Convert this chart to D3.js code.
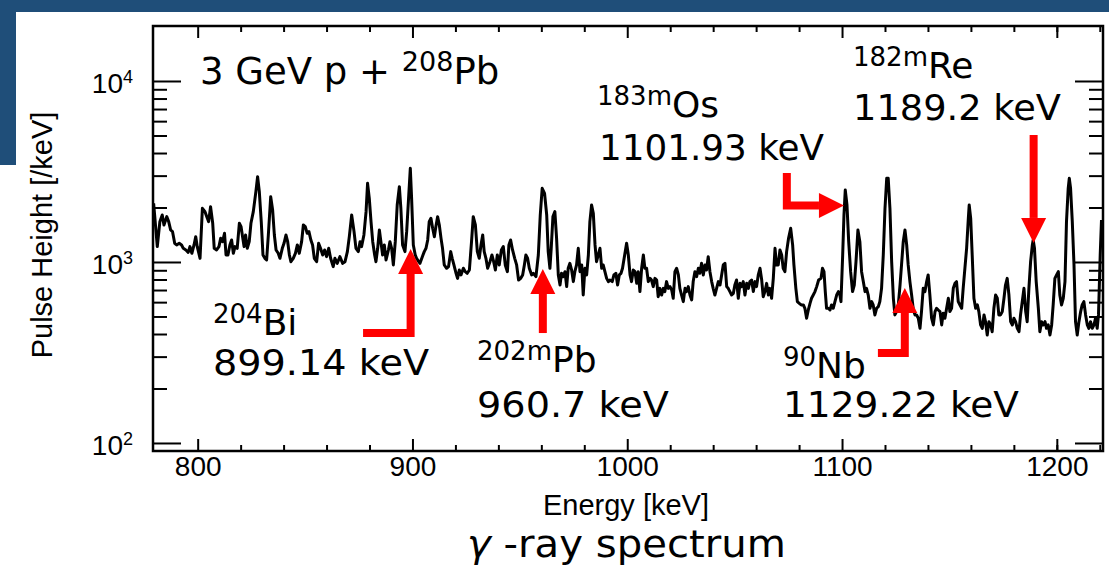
<!DOCTYPE html>
<html><head><meta charset="utf-8">
<script src="https://cdn.jsdelivr.net/npm/d3@7"></script>
<style>html,body{margin:0;padding:0;background:#fff;}svg{display:block;}</style>
</head><body>
<svg id="chart" width="1109" height="569"></svg>
<script>
// ---- data ----
const energyKeV = [
 779.5,781.2,782.4,783.5,784.3,785.6,786.5,787.4,788.3,789.3,790.2,791.4,792.5,793.3,794.5,795.6,796.4,797.3,798.3,799.1,
 799.8,801.1,802.2,803.4,804.5,805.1,806.0,807.0,807.7,808.8,809.9,810.7,811.6,812.5,813.2,814.1,815.0,815.8,816.6,817.4,
 818.4,819.4,820.2,820.9,821.6,822.3,823.1,824.0,824.8,825.9,827.1,827.9,828.7,829.6,830.4,831.3,832.1,832.9,834.0,834.9,
 835.7,836.5,837.5,838.3,839.4,840.2,841.1,841.9,842.7,843.4,844.5,845.5,846.4,847.3,848.4,849.2,850.1,851.0,851.8,852.7,
 853.5,854.3,855.4,856.3,857.2,858.2,859.1,860.0,861.0,861.9,863.1,863.9,865.0,866.2,867.5,
 868.6,869.7,870.6,871.7,872.8,873.7,874.8,875.6,876.3,877.4,878.4,879.1,879.9,880.7,881.5,882.4,883.0,883.8,884.6,885.3,
 886.1,886.9,887.7,888.8,889.5,890.3,891.1,892.0,892.9,893.9,894.6,895.4,896.5,897.3,898.1,899.0,899.6,900.4,901.3,901.9,
 902.9,903.5,904.6,905.5,906.3,907.1,907.8,908.6,909.4,910.2,910.9,911.7,912.5,913.3,914.0,914.8,915.9,916.8,917.8,918.5,
 919.3,920.3,921.0,921.8,922.6,923.7,924.6,925.5,926.5,927.5,928.3,929.3,930.2,931.1,931.9,932.7,933.4,934.2,935.0,936.1,
 937.0,937.8,938.6,939.5,940.4,941.4,942.3,943.2,944.2,944.9,945.7,946.6,947.6,948.5,949.4,950.4,951.3,952.1,952.8,953.6,
 954.4,955.5,
 956.3,957.5,958.6,959.5,960.4,961.5,962.5,963.2,964.0,964.6,965.4,966.3,967.1,967.9,968.7,969.4,970.2,971.0,971.8,972.5,
 973.3,974.1,974.9,975.6,976.4,977.2,978.0,978.8,979.5,980.3,981.1,981.9,982.6,983.4,984.2,985.0,985.7,986.5,987.3,988.1,
 988.8,989.6,990.4,991.2,991.9,993.0,993.8,994.7,995.5,996.3,997.1,997.8,998.8,999.7,1000.5,1001.3,1002.0,1002.8,1003.6,1004.4,
 1005.1,1005.9,1006.7,1007.5,1008.2,1009.0,1009.8,1010.6,1011.3,1012.1,1012.9,1013.7,1014.4,1015.2,1016.0,1016.8,1017.5,1018.3,1019.1,1019.9,
 1020.7,1021.4,1022.2,1023.0,1023.8,1024.5,1025.3,1026.1,1026.9,1027.6,1028.4,1029.2,1030.0,1030.7,1031.5,1032.3,1033.1,1033.8,1034.6,1035.4,
 1036.2,1036.9,1037.7,1038.5,1039.3,1040.0,1040.8,1041.6,1042.4,1043.2,1044.7,1045.5,
 1046.3,1047.0,1047.8,1048.6,1049.4,1050.1,1050.9,1051.7,1052.5,1053.2,1054.0,1054.8,1055.6,1056.4,1057.1,1057.9,1058.7,1059.5,1060.2,1061.0,
 1061.8,1062.6,1063.3,1064.1,1064.9,1065.7,1066.4,1067.2,1068.0,1068.8,1069.5,1070.3,1071.1,1071.9,1072.6,1073.4,1074.2,1075.1,1076.1,1077.0,
 1077.6,1078.5,1079.2,1080.1,1081.0,1082.0,1082.7,1083.5,1084.3,1085.1,1085.8,1086.6,1087.4,1088.2,1089.1,1090.2,1090.9,1091.6,1092.2,1092.8,
 1093.6,1094.4,1095.1,1095.9,1096.7,1097.5,1098.3,1099.0,1099.5,1100.3,1100.9,1101.5,1102.3,1103.1,1104.0,1104.9,1105.7,1106.5,1107.4,1108.3,
 1109.1,1109.9,1110.7,1111.4,1112.2,1113.0,1113.8,1114.5,1115.3,1116.1,1116.9,1117.6,1118.4,1119.2,1120.0,1120.8,1121.5,1122.3,1123.1,1123.9,
 1124.6,1125.4,1126.2,1127.0,1127.7,1128.5,1129.3,1130.1,1130.8,1131.6,1132.4,1133.2,1134.0,
 1134.7,1135.5,1136.3,1137.0,1137.8,1138.6,1139.4,1140.1,1140.9,1141.7,1142.5,1143.3,1144.0,1144.8,1145.6,1146.4,1147.1,1147.9,1148.7,1149.5,
 1150.2,1151.0,1151.8,1152.6,1153.3,1154.1,1154.9,1155.7,1156.4,1157.2,1158.0,1158.8,1159.2,1159.9,1160.6,1161.4,1162.2,1163.0,1163.7,1164.5,
 1165.3,1166.1,1166.8,1167.6,1168.4,1169.2,1169.9,1170.7,1171.5,1172.3,1173.0,1173.8,1174.6,1175.4,1176.1,1176.9,1177.7,1178.5,1179.3,1180.0,
 1180.8,1181.6,1182.4,1183.1,1183.9,1184.7,1185.5,1186.2,1187.0,1187.8,1188.6,1189.0,1189.6,1190.4,1191.4,1192.1,1192.9,1193.7,1194.5,1195.2,
 1196.0,1196.8,1197.6,1198.3,1199.1,1199.9,1200.7,1201.4,1202.2,1203.0,1203.8,1204.5,1205.3,1205.8,1206.4,1207.2,1208.0,1208.7,1209.5,1210.3,
 1211.1,1211.8,1212.6,1213.4,1214.2,1214.9,1215.7,1216.5,1217.3,1218.0,1218.8,1219.4,1220.2,1220.8
];
const pulseHeight = [
 2110,1216,1671,1818,1601,1780,1671,1503,1471,1268,1242,1268,1242,1190,1165,1131,1216,1117,1242,1380,
 1216,1048,1980,1897,1743,1671,2022,1636,1190,1165,1216,1351,1295,1440,1093,1093,1242,1323,1117,1216,
 1190,1636,1568,1380,1216,1410,1190,1295,1636,1897,2447,2961,2447,1671,1093,1048,1026,1410,2296,1938,
 1410,1165,1117,1048,1190,1268,1410,1295,1093,1004,1048,1117,1242,1117,1295,1601,1568,1440,1471,1323,
 1242,1048,1004,1268,1190,1093,1165,1070,1190,1048,943,1048,983,1070,983,
 1004,1141,1380,1818,1471,1190,1141,1295,1216,1410,1897,2720,2247,1671,1295,1093,1004,1190,1503,1295,
 1093,1242,1026,1165,1295,1190,963,1295,2065,2608,1980,1242,1141,1471,2155,3292,2247,1242,1093,1048,
 1004,983,1070,1141,1190,1323,1671,1743,1535,1380,1568,1780,1601,1351,1190,963,923,943,1141,1048,
 963,866,812,903,848,923,884,866,903,1295,1780,1601,1141,1048,1242,1410,1141,1048,923,1004,
 1093,1004,903,1093,963,1165,1216,963,884,1242,1323,1165,1048,963,795,812,848,963,1093,1048,
 923,848,
 866,830,1093,1818,2553,2396,1818,1141,923,1190,1780,1897,1351,848,746,866,830,884,731,923,
 983,903,779,884,963,1190,884,963,657,923,848,1093,1671,2065,1857,1242,1004,1093,1190,923,
 963,884,812,779,795,779,848,866,746,848,866,923,1093,1268,1093,848,779,903,884,762,
 884,686,923,1093,923,923,779,812,795,731,812,795,643,715,657,715,686,779,715,731,
 700,630,884,923,848,715,657,604,715,686,731,657,617,779,884,830,923,866,983,848,
 963,903,1070,884,779,715,657,715,779,746,963,983,
 731,715,686,657,671,746,795,630,762,731,779,657,762,715,779,795,686,779,731,848,
 923,795,643,686,762,657,715,630,812,1190,963,963,1165,1093,923,884,1141,1351,1535,1242,
 963,715,604,591,579,579,555,489,543,591,630,657,686,731,795,812,923,884,686,555,
 555,543,579,555,604,657,686,657,604,1093,1818,2500,2065,1295,884,686,746,1004,1503,1295,
 884,779,686,715,657,555,604,579,510,555,567,604,715,1093,1980,2900,2900,1980,1004,630,
 510,532,579,746,963,1295,1503,1242,963,779,657,543,510,
 510,489,430,532,715,686,779,848,657,489,449,532,555,543,532,449,521,489,555,630,
 532,555,715,762,779,604,579,555,715,923,1190,1743,2065,1743,1093,630,555,579,532,449,
 430,510,468,395,468,449,412,555,657,630,510,510,532,630,746,812,657,468,449,489,
 468,430,412,510,604,715,532,468,715,1004,1242,1323,1190,779,555,412,468,449,468,430,
 449,395,449,579,812,848,884,657,579,630,779,1671,2553,2900,2553,1671,963,468,395,468,
 532,579,604,510,449,430,468,430,449,489,430,510,1093,1707
];
const xDomain = [779.2, 1221.5];
const yDomain = [90.3, 20130];
const xMajorTicks = [800, 900, 1000, 1100, 1200];
const xMinorTicks = [820,840,860,880,920,940,960,980,1020,1040,1060,1080,1120,1140,1160,1180,1200,1220];
const yMajorTicks = [100, 1000, 10000];
const yMajorExp = ["2", "3", "4"];
const yMinorTicks = [200,300,400,500,600,700,800,900,2000,3000,4000,5000,6000,7000,8000,9000];
const xTitle = "Energy [keV]";
const yTitle = "Pulse Height [/keV]";
const slideTitle = ["\u03B3", " -ray spectrum"];
const beamLabel = ["3 GeV p + ", "208", "Pb"];
const peakIso = [["183m","Os"],["182m","Re"],["204","Bi"],["202m","Pb"],["90","Nb"]];
const peakEnergyText = ["1101.93 keV","1189.2 keV","899.14 keV","960.7 keV","1129.22 keV"];
const arrowTail = [[[1074.3,3102],[1074.3,2051]], [[1189.2,5031]], [[877.0,405],[899.14,405]], [[960.7,405]], [[1116.7,314],[1129.22,314]]];
const arrowTip = [[1100.9,2051],[1189.2,1274],[899.14,1180],[960.7,915],[1129.22,718]];
const arrowDir = ["right","down","up","up","up"];

// ---- layout ----
const W = 1109, H = 569;
const plot = {l:153, t:26, r:1103, b:451};
const svg = d3.select("#chart");
svg.append("rect").attr("width",W).attr("height",H).attr("fill","#fff");
svg.append("rect").attr("x",0).attr("y",0).attr("width",W).attr("height",12).attr("fill","#1f4e79");
svg.append("rect").attr("x",0).attr("y",0).attr("width",16).attr("height",165).attr("fill","#1f4e79");

const x = d3.scaleLinear().domain(xDomain).range([plot.l, plot.r]);
const y = d3.scaleLog().domain(yDomain).range([plot.b, plot.t]);

const axisFont = "'Liberation Sans', Arial, sans-serif";
function styleAxis(g){ g.select(".domain").remove(); g.selectAll("line").attr("stroke","#000").attr("stroke-width",2); }

svg.append("g").attr("transform",`translate(0,${plot.b})`)
  .call(d3.axisBottom(x).tickValues(xMajorTicks).tickSize(-12).tickPadding(5).tickFormat(d3.format("d")))
  .call(styleAxis)
  .call(g=>g.selectAll("text").attr("font-family",axisFont).attr("font-size",28).attr("fill","#000"));
svg.append("g").attr("transform",`translate(0,${plot.b})`)
  .call(d3.axisBottom(x).tickValues(xMinorTicks.filter(v=>v<xDomain[1])).tickSize(-6).tickFormat(""))
  .call(styleAxis);
svg.append("g").attr("transform",`translate(0,${plot.t})`)
  .call(d3.axisTop(x).tickValues(xMajorTicks).tickSize(-12).tickFormat(""))
  .call(styleAxis);
svg.append("g").attr("transform",`translate(0,${plot.t})`)
  .call(d3.axisTop(x).tickValues(xMinorTicks.filter(v=>v<xDomain[1])).tickSize(-6).tickFormat(""))
  .call(styleAxis);
[[d3.axisLeft, plot.l],[d3.axisRight, plot.r]].forEach(([ax,pos])=>{
  svg.append("g").attr("transform",`translate(${pos},0)`)
    .call(ax(y).tickValues(yMajorTicks).tickSize(-28).tickFormat(""))
    .call(styleAxis);
  svg.append("g").attr("transform",`translate(${pos},0)`)
    .call(ax(y).tickValues(yMinorTicks).tickSize(-14).tickFormat(""))
    .call(styleAxis);
});
yMajorTicks.forEach((v,i)=>{
  const t = svg.append("text").attr("x",133).attr("y",y(v)+12).attr("text-anchor","end")
    .attr("font-family",axisFont).attr("font-size",28).attr("fill","#000");
  t.append("tspan").text("10");
  t.append("tspan").attr("font-size",18).attr("dy",-10).text(yMajorExp[i]);
});
svg.append("rect").attr("x",plot.l).attr("y",plot.t).attr("width",plot.r-plot.l).attr("height",plot.b-plot.t)
  .attr("fill","none").attr("stroke","#000").attr("stroke-width",2.5);

svg.append("text").attr("x",626).attr("y",515).attr("text-anchor","middle")
  .attr("font-family",axisFont).attr("font-size",29).attr("fill","#000").text(xTitle);
svg.append("text").attr("transform","translate(52,235) rotate(-90)").attr("text-anchor","middle")
  .attr("font-family",axisFont).attr("font-size",29).attr("fill","#000").text(yTitle);

// spectrum
svg.append("clipPath").attr("id","clip").append("rect")
  .attr("x",plot.l).attr("y",plot.t).attr("width",plot.r-plot.l).attr("height",plot.b-plot.t);
const pts = energyKeV.map((e,i)=>[e,pulseHeight[i]]);
svg.append("path").datum(pts).attr("clip-path","url(#clip)")
  .attr("d", d3.line().x(d=>x(d[0])).y(d=>y(d[1])))
  .attr("fill","none").attr("stroke","#000").attr("stroke-width",3).attr("stroke-linejoin","round");

// arrows
const headLen = 25, headHalf = 12.5, red = "#ff0000";
arrowTip.forEach((tip,i)=>{
  const tx = x(tip[0]), ty = y(tip[1]);
  const dir = arrowDir[i];
  let base, head;
  if(dir==="up"){ base=[tx,ty+headLen]; head=[[tx,ty],[tx-headHalf,ty+headLen],[tx+headHalf,ty+headLen]]; }
  else if(dir==="down"){ base=[tx,ty-headLen]; head=[[tx,ty],[tx-headHalf,ty-headLen],[tx+headHalf,ty-headLen]]; }
  else { base=[tx-headLen,ty]; head=[[tx,ty],[tx-headLen,ty-headHalf],[tx-headLen,ty+headHalf]]; }
  const shaft = arrowTail[i].map(p=>[x(p[0]),y(p[1])]).concat([base]);
  svg.append("path").attr("d", d3.line()(shaft)).attr("fill","none").attr("stroke",red)
    .attr("stroke-width",8).attr("stroke-linejoin","miter").attr("stroke-linecap","butt");
  svg.append("path").attr("d", d3.line()(head)+"Z").attr("fill",red);
});

// annotation texts
const annFont = "'DejaVu Sans', sans-serif";
function isoLabel(xs, base, sup, main){
  const t = svg.append("text").attr("x",xs).attr("y",base).attr("font-family",annFont).attr("fill","#000");
  t.append("tspan").attr("font-size",26).attr("dy",-12).text(sup);
  t.append("tspan").attr("font-size",36).attr("dy",12).text(main);
}
function line(xs, base, txt, w){
  svg.append("text").attr("x",xs).attr("y",base).attr("font-family",annFont).attr("font-size",36)
    .attr("textLength",w).attr("lengthAdjust","spacingAndGlyphs").attr("fill","#000").text(txt);
}
{
  const t = svg.append("text").attr("x",200).attr("y",84).attr("font-family",annFont).attr("fill","#000");
  t.append("tspan").attr("font-size",37).text(beamLabel[0]);
  t.append("tspan").attr("font-size",27).attr("dy",-13).text(beamLabel[1]);
  t.append("tspan").attr("font-size",37).attr("dy",13).text(beamLabel[2]);
}
const isoPos = [[597,117],[853,78],[213,335],[477,372],[783,378]];
const enPos = [[599,160,225],[853,120,208],[213,375,216],[477,417,192],[783,417,236]];
peakIso.forEach((p,i)=>{
  isoLabel(isoPos[i][0], isoPos[i][1], p[0], p[1]);
  line(enPos[i][0], enPos[i][1], peakEnergyText[i], enPos[i][2]);
});

// slide caption
const cap = svg.append("text").attr("x",467).attr("y",557)
  .attr("font-family",annFont).attr("font-size",37).attr("fill","#000")
  .attr("textLength",319).attr("lengthAdjust","spacingAndGlyphs");
cap.append("tspan").attr("font-style","italic").text(slideTitle[0]);
cap.append("tspan").text(slideTitle[1]);
</script>
</body></html>
